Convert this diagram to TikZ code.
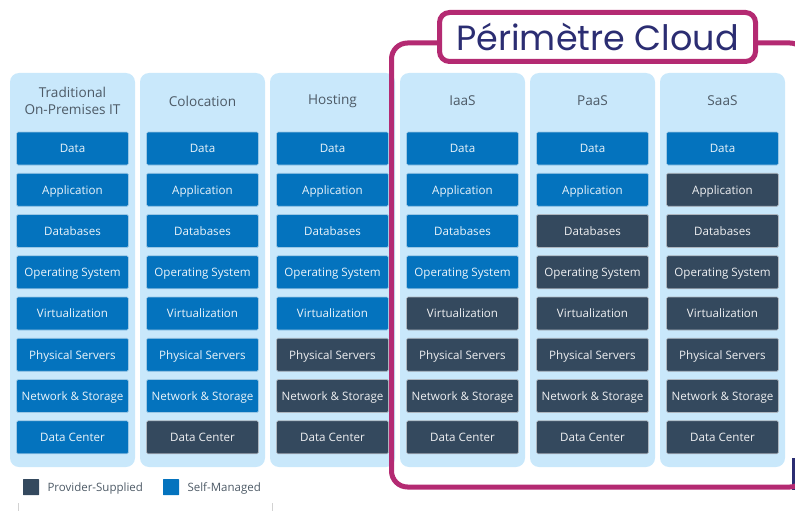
\documentclass[tikz,border=0pt]{standalone}
\usepackage{fontspec}
\setmainfont{Open Sans}
\newfontfamily\perimfont{Poppins}
\usetikzlibrary{positioning}

\definecolor{selfblue}{HTML}{0473BE}
\definecolor{provdark}{HTML}{34495E}
\definecolor{colbg}{HTML}{C9E8FB}
\definecolor{perim}{HTML}{B42A72}
\definecolor{perimtext}{HTML}{2B2D72}
\definecolor{headgray}{HTML}{4D5A66}

\tikzset{
  colbox/.style={fill=colbg,rounded corners=9pt},
  layer/.style={rounded corners=1.5pt,draw=white!60!#1,line width=0.6pt,fill=#1,
    minimum width=112pt,minimum height=33pt,inner sep=0pt,text=white!92!#1,
    text height=8.5pt,text depth=0pt,font=\fontsize{11.6}{13}\selectfont},
  selfbox/.style={layer=selfblue},
  provbox/.style={layer=provdark},
  colhead/.style={text=headgray,align=center,font=\fontsize{13.6}{16.5}\selectfont},
  legtext/.style={text=headgray,anchor=west,text height=8.5pt,text depth=0pt,
    inner sep=0pt,font=\fontsize{11.5}{13}\selectfont}
}

\begin{document}
\begin{tikzpicture}[x=1pt,y=-1pt]
        \useasboundingbox (0,0) rectangle (795,511);
        %colonnes
        \foreach \i/\name/\nblue in {0/{Traditional\\On-Premises IT}/8,1/Colocation/7,2/Hosting/5,
                                     3/IaaS/4,4/PaaS/2,5/SaaS/1}{
            \fill[colbox] (10+130*\i,73) rectangle (135+130*\i,467);
            \node[colhead] (head\i) at (72.5+130*\i,101) {\name};
            \foreach \lbl [count=\k] in {Data,Application,Databases,Operating System,Virtualization,
                                         Physical Servers,Network \& Storage,Data Center}{
                \ifnum\k>\nblue \def\boxstyle{provbox}\else\def\boxstyle{selfbox}\fi
                \node[\boxstyle] (col\i-r\k) at (72.5+130*\i,107.25+41.25*\k) {\lbl};
            }
        }
        %legende
        \node[provbox,minimum width=16pt,minimum height=16pt,draw=none,rounded corners=0.5pt] (legprov) at (31,487) {};
        \node[legtext,right=8pt of legprov] (legprovtxt) {Provider-Supplied};
        \node[selfbox,minimum width=16pt,minimum height=16pt,draw=none,rounded corners=0.5pt] (legself) at (171,487) {};
        \node[legtext,right=8pt of legself] (legselftxt) {Self-Managed};
        \draw[gray!35,thin] (18,503)--(18,511) (272,503)--(272,511);
        %perimetre cloud
        \fill[perimtext] (792,458) rectangle (798,490);
        \draw[perim,line width=5pt,rounded corners=16pt] (391.5,43) rectangle (806,487);
        \node[fill=white,draw=perim,line width=5pt,rounded corners=10pt,minimum width=316pt,
              minimum height=49pt,inner sep=0pt,text=perimtext,font=\perimfont\fontsize{35}{37}\selectfont]
              (perimlabel) at (597.5,37) {Périmètre Cloud};
\end{tikzpicture}
\end{document}
